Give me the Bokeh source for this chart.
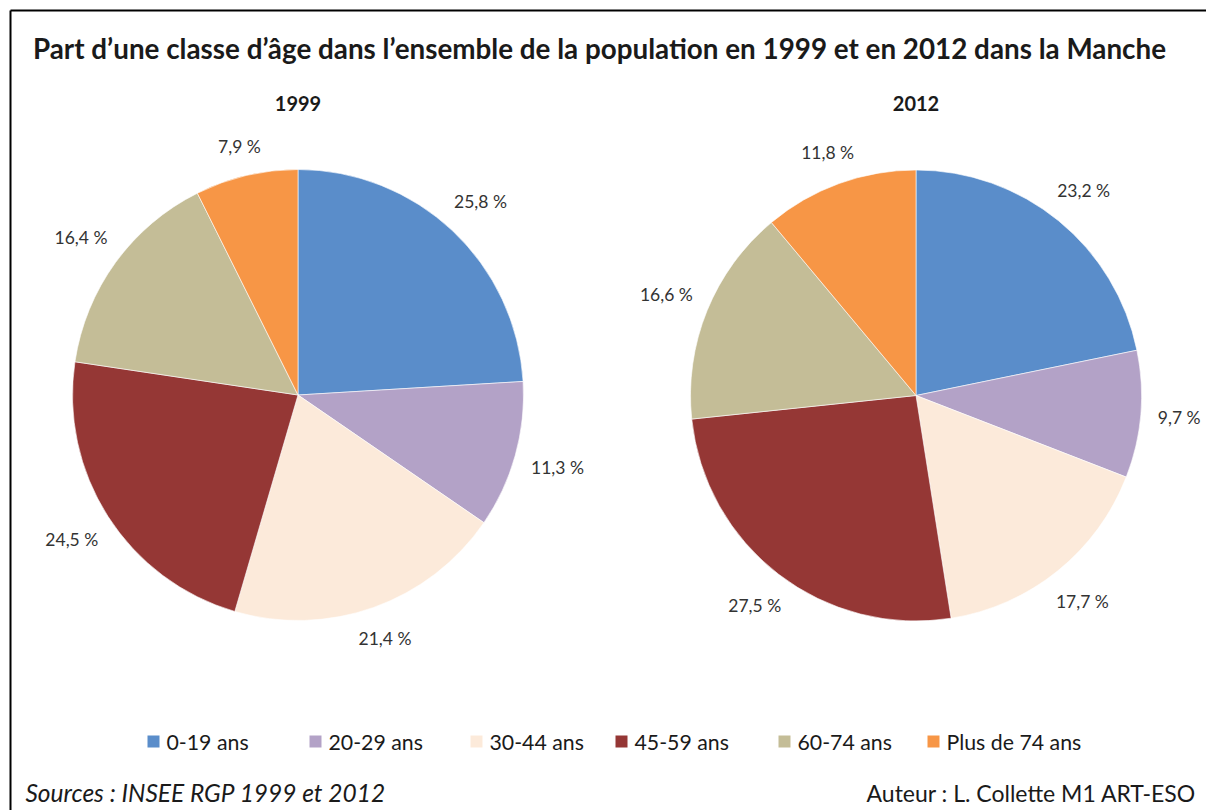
import numpy as np
from bokeh.plotting import figure
from bokeh.models import Range1d, ColumnDataSource
from bokeh.core.properties import value
from bokeh.embed import file_html
from bokeh.resources import INLINE

# ---------------- data ----------------
categories = ["0-19 ans", "20-29 ans", "30-44 ans", "45-59 ans", "60-74 ans", "Plus de 74 ans"]
values_1999 = [25.8, 11.3, 21.4, 24.5, 16.4, 7.9]
values_2012 = [23.2, 9.7, 17.7, 27.5, 16.6, 11.8]
years = ["1999", "2012"]

title = "Part d\u2019une classe d\u2019\u00e2ge dans l\u2019ensemble de la population en 1999 et en 2012 dans la Manche"
source_txt = "Sources : INSEE RGP 1999 et 2012"
author_txt = "Auteur : L. Collette M1 ART-ESO"

# ---------------- styles / layout ----------------
colors = ["#5A8DCA", "#B3A2C7", "#FCEADA", "#953735", "#C4BD97", "#F79646"]
FONT = "Lato"
TXT = "#1a1a1a"
LBL = "#333333"

W, H = 1206, 810
def X(px):  # page x -> data x
    return px
def Y(py):  # page y -> data y (y up)
    return H - py

pie_centers = [(297.5, 394.5), (915.5, 395.0)]
R = 225.5
GAP = 16          # distance between pie edge and label box
HALF_H = 9        # half height of a label box
CHAR_W = 4.4      # half width per character

p = figure(width=W, height=H, x_range=Range1d(0, W), y_range=Range1d(0, H),
           output_backend="svg", toolbar_location=None, min_border=0,
           x_axis_location=None, y_axis_location=None)
p.grid.visible = False
p.outline_line_color = None
p.background_fill_color = "white"
p.border_fill_color = "white"

# border (top and left visible in the window)
p.segment(x0=[X(10), X(10)], y0=[Y(10), Y(10)], x1=[X(10), X(1214)], y1=[Y(812), Y(10)],
          line_color="black", line_width=2)

# ---------------- pies ----------------
for (cxp, cyp), vals, yr in zip(pie_centers, [values_1999, values_2012], years):
    v = np.array(vals, dtype=float)
    frac = v / v.sum()
    cum_after = np.cumsum(frac)
    cum_before = cum_after - frac
    start = np.pi / 2 - 2 * np.pi * cum_before
    end = np.pi / 2 - 2 * np.pi * cum_after
    mid = 2 * np.pi * (cum_before + frac / 2)  # clockwise from 12 o'clock
    cx, cy = X(cxp), Y(cyp)
    labels = [("%.1f %%" % x).replace(".", ",") for x in vals]
    half_w = np.array([len(s) * CHAR_W for s in labels])
    dist = R + GAP + half_w * np.abs(np.sin(mid)) + HALF_H * np.abs(np.cos(mid))
    lx = cx + dist * np.sin(mid)
    ly = cy + dist * np.cos(mid)
    src = ColumnDataSource(dict(start=start, end=end, color=colors, cat=categories,
                                lx=lx, ly=ly, label=labels))
    p.wedge(x=cx, y=cy, radius=R, start_angle="start", end_angle="end", direction="clock",
            fill_color="color", line_color="white", line_width=0.6, source=src)
    p.text(x="lx", y="ly", text="label", source=src, text_align="center",
           text_baseline="middle", text_font=value(FONT), text_font_size="17.5px",
           text_color=LBL)
    p.text(x=[cx], y=[Y(103)], text=[yr], text_align="center", text_baseline="middle",
           text_font=value(FONT), text_font_size="20px", text_font_style="bold",
           text_color=TXT)

# ---------------- title ----------------
p.text(x=[X(599)], y=[Y(48)], text=[title], text_align="center", text_baseline="middle",
       text_font=value(FONT), text_font_size="27.8px", text_font_style="bold", text_color=TXT)

# ---------------- legend ----------------
leg_sq_x = [153, 315, 476, 621, 784, 933]
leg_y = 741
p.scatter(x=[X(a) for a in leg_sq_x], y=[Y(leg_y)] * len(categories), marker="square",
          size=12, fill_color=colors, line_color=None)
p.text(x=[X(a + 13) for a in leg_sq_x], y=[Y(leg_y)] * len(categories), text=categories,
       text_align="left", text_baseline="middle", text_font=value(FONT),
       text_font_size="21.3px", text_color=TXT)

# ---------------- footer ----------------
p.text(x=[X(25)], y=[Y(792)], text=[source_txt], text_align="left", text_baseline="middle",
       text_font=value(FONT), text_font_size="24.5px", text_font_style="italic", text_color=TXT)
p.text(x=[X(1196)], y=[Y(792)], text=[author_txt], text_align="right", text_baseline="middle",
       text_font=value(FONT), text_font_size="23px", text_color=TXT)

open("out.html", "w").write(file_html(p, INLINE))
